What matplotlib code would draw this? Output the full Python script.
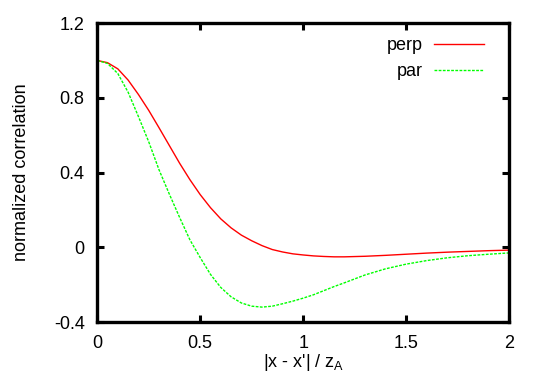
import matplotlib

matplotlib.use("Agg")
import matplotlib.pyplot as plt

# values
x_perp = [0.00, 0.05, 0.10, 0.15, 0.20, 0.25, 0.30, 0.35, 0.40, 0.45,
          0.50, 0.55, 0.60, 0.65, 0.70, 0.75, 0.80, 0.85, 0.90, 0.95,
          1.00, 1.05, 1.10, 1.15, 1.20, 1.30, 1.40, 1.50, 1.60, 1.70,
          1.80, 1.90, 2.00]
perp = [1.000, 0.988, 0.955, 0.895, 0.818, 0.733, 0.640, 0.545, 0.450, 0.362,
        0.282, 0.212, 0.152, 0.104, 0.065, 0.035, 0.009, -0.012, -0.025, -0.035,
        -0.041, -0.046, -0.049, -0.051, -0.051, -0.048, -0.043, -0.037, -0.031, -0.026,
        -0.022, -0.018, -0.015]

x_par = [0.00, 0.05, 0.10, 0.15, 0.20, 0.25, 0.30, 0.35, 0.40, 0.45,
         0.50, 0.55, 0.60, 0.65, 0.70, 0.75, 0.80, 0.85, 0.90, 0.95,
         1.00, 1.05, 1.10, 1.15, 1.20, 1.30, 1.40, 1.50, 1.60, 1.70,
         1.80, 1.90, 2.00]
par = [1.000, 0.984, 0.930, 0.830, 0.700, 0.565, 0.415, 0.285, 0.160, 0.040,
       -0.055, -0.145, -0.215, -0.265, -0.298, -0.315, -0.320, -0.315, -0.302, -0.288,
       -0.272, -0.254, -0.232, -0.210, -0.190, -0.148, -0.115, -0.090, -0.071, -0.056,
       -0.045, -0.037, -0.030]

x_ticks = [0, 0.5, 1, 1.5, 2]
x_labels = ["0", "0.5", "1", "1.5", "2"]
y_ticks = [-0.4, 0, 0.4, 0.8, 1.2]
y_labels = ["-0.4", "0", "0.4", "0.8", "1.2"]

plt.rcParams["font.family"] = ["Liberation Sans", "DejaVu Sans"]
plt.rcParams["font.size"] = 13

fig = plt.figure(figsize=(5.4, 3.78), dpi=100)
ax = fig.add_axes([0.180, 0.148, 0.763, 0.791])

ax.plot(x_perp, perp, color="#ff0000", linewidth=1.0, label="perp")
ax.plot(x_par, par, color="#00ff00", linewidth=1.0, linestyle=(0, (2, 1)),
        label="par")

ax.set_xlim(0, 2)
ax.set_ylim(-0.4, 1.2)
ax.set_xticks(x_ticks, x_labels)
ax.set_yticks(y_ticks, y_labels)
ax.tick_params(direction="in", length=5, width=2.2, top=True, right=True,
               labelsize=13, pad=9)
for s in ax.spines.values():
    s.set_linewidth(2.4)

ax.set_xlabel("|x - x'| / z$_\\mathregular{A}$", fontsize=13, labelpad=0)
ax.set_ylabel("normalized correlation", fontsize=13, labelpad=17)

ax.legend(loc="upper right", bbox_to_anchor=(0.957, 0.977), borderaxespad=0,
          frameon=False, markerfirst=False,
          handlelength=2.8, handletextpad=0.6, labelspacing=0.5, fontsize=13)

fig.savefig("out.png", dpi=100)
